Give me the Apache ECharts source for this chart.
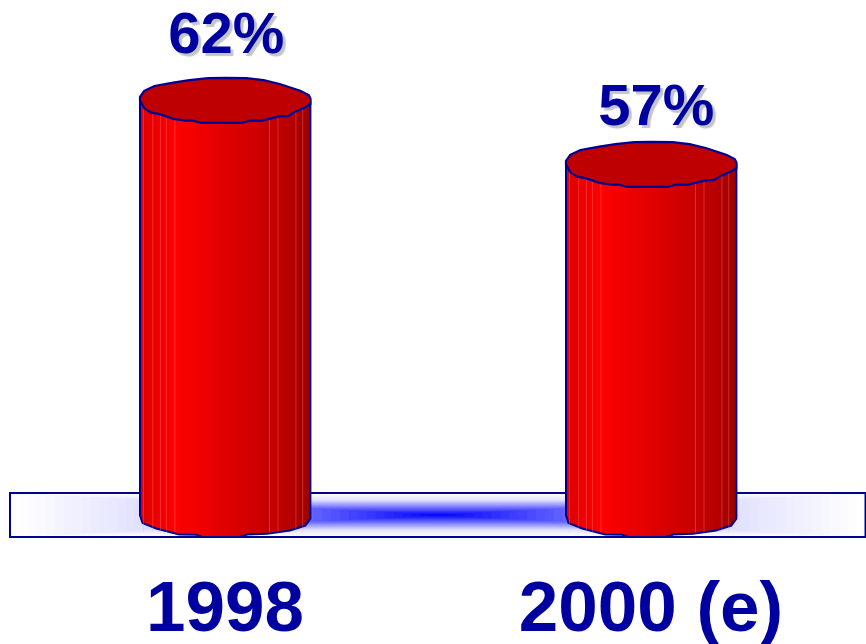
<!DOCTYPE html>
<html>
<head>
<meta charset="utf-8">
<style>html,body{margin:0;padding:0;background:#fff}#c{width:866px;height:644px}</style>
<script src="https://cdn.jsdelivr.net/npm/echarts@6/dist/echarts.min.js"></script>
</head>
<body>
<div id="c"></div>
<script>
const categories = ['1998', '2000 (e)'];
const shares = [62, 57];

const NAVY = '#0000a0', EDGE = '#000090';
const rimOutline = [[-1,-.16],[-.95,-.43],[-.83,-.64],[-.61,-.79],[-.42,-.9],[-.2,-.99],[0,-1],[.25,-.99],[.45,-.9],[.64,-.73],[.88,-.43],[.98,-.24],[1,-.1],[1,.16],[.94,.3],[.82,.5],[.74,.69],[.62,.72],[.43,.9],[.29,.9],[.19,1],[-.28,1],[-.38,.9],[-.47,.9],[-.61,.82],[-.77,.61],[-.87,.54],[-.95,.35],[-1,0]];
const baseOutline = [[1,.18],[.94,.49],[.76,.71],[.49,.86],[.26,.89],[.17,1],[-.27,1],[-.34,.9],[-.54,.89],[-.81,.62],[-.97,.38],[-1,.04]];
const facets = [.02,.075,.12,.155,.205,.76,.81,.915,.955];
const labelShift = [[1, -67.5], [5, -59.5]];

const chart = echarts.init(document.getElementById('c'));

function floorRects() {
  const cx = 438, cy = 515, W = 427.5, H = 21.5, steps = 48, out = [];
  const amount = t => t < .3 ? 1 - t / .3 * .38 : t < .7 ? .62 - (t - .3) / .4 * .5 : .12 * (1 - (t - .7) / .3);
  for (let i = steps; i > 0; i--) {
    const t = i / steps, c = Math.round(255 * (1 - amount(t)));
    out.push({type: 'rect', silent: true, z: 0,
      shape: {x: cx - W * t, y: cy - H * t, width: 2 * W * t, height: 2 * H * t},
      style: {fill: `rgb(${c},${c},255)`}});
  }
  out.push({type: 'rect', silent: true, z: 0, shape: {x: 10, y: 493, width: 855.5, height: 44},
    style: {fill: 'none', stroke: EDGE, lineWidth: 2}});
  return out;
}

function renderCylinder(params, api) {
  const idx = params.dataIndex;
  const top = api.coord([api.value(0), api.value(1)]);
  const base = api.coord([api.value(0), 29.65]);
  const rx = api.size([1, 0])[0] * 0.2, ry = 22.5;
  const cx = top[0] + 0.2;
  const ring = rimOutline.map(p => [cx + p[0] * rx, top[1] + p[1] * ry]);
  const lower = baseOutline.map(p => [cx + p[0] * rx, base[1] + p[1] * ry]);
  const body = [[cx - rx, top[1]], [cx + rx, top[1]]].concat(lower);
  const grad = new echarts.graphic.LinearGradient(0, 0, 1, 0, [
    {offset: 0, color: '#dc0000'}, {offset: .21, color: '#ff0000'},
    {offset: .76, color: '#c60000'}, {offset: .9, color: '#b40000'}, {offset: 1, color: '#980000'}]);
  const children = [{type: 'polygon', shape: {points: body},
    style: {fill: grad, stroke: EDGE, lineWidth: 2}}];
  facets.forEach(f => {
    const x = cx - rx + f * 2 * rx;
    children.push({type: 'line', shape: {x1: x, y1: top[1], x2: x, y2: base[1] + ry * .8},
      style: {stroke: 'rgba(255,170,170,0.28)', lineWidth: 1}});
  });
  children.push({type: 'polygon', shape: {points: ring},
    style: {fill: '#bf0000', stroke: EDGE, lineWidth: 2.2}});
  children.push({type: 'text', style: {
    text: api.value(1) + '%', x: cx + labelShift[idx][0], y: top[1] + labelShift[idx][1] + 4,
    align: 'center', verticalAlign: 'middle', fill: NAVY,
    font: 'bold 58px "Liberation Sans", Arial, sans-serif',
    textShadowColor: '#c4c4cc', textShadowOffsetX: 3, textShadowOffsetY: 3, textShadowBlur: 1}});
  return {type: 'group', children};
}

chart.setOption({
  animation: false,
  backgroundColor: '#fff',
  grid: {left: 12, width: 852, top: 0.6, height: 514.56, outerBoundsMode: 'none'},
  xAxis: {type: 'category', data: categories,
    axisLine: {show: false}, axisTick: {show: false},
    axisLabel: {color: NAVY, fontFamily: '"Liberation Sans", Arial, sans-serif', fontWeight: 'bold', fontSize: 71, margin: 61}},
  yAxis: {type: 'value', min: 29.6, max: 69.8, show: false},
  graphic: {elements: floorRects()},
  series: [{type: 'custom', z: 5, clip: false, renderItem: renderCylinder,
    encode: {x: 0, y: 1},
    data: categories.map((c, i) => [i, shares[i]])}]
});
</script>
</body>
</html>
